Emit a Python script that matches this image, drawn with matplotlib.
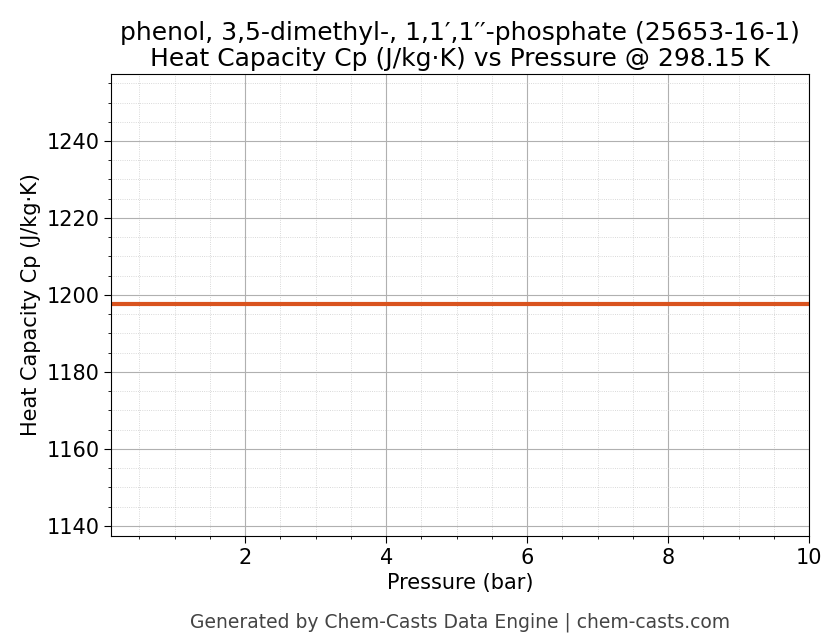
import matplotlib
matplotlib.use("Agg")
import matplotlib.pyplot as plt
from matplotlib.ticker import AutoMinorLocator

pressure = [0.1, 1, 2, 3, 4, 5, 6, 7, 8, 9, 10]
cp = [1197.7] * len(pressure)

fig = plt.figure(figsize=(8.36, 6.44), dpi=100)
ax = fig.add_axes([0.133, 0.168, 0.835, 0.717])
ax.plot(pressure, cp, color="#d9531e", linewidth=3)
ax.set_xlim(0.1, 10)
ax.set_ylim(1137.4, 1257.4)
ax.xaxis.set_minor_locator(AutoMinorLocator(4))
ax.yaxis.set_minor_locator(AutoMinorLocator(4))
ax.grid(which="major", color="#b0b0b0", linewidth=0.8)
ax.grid(which="minor", color="#cccccc", linewidth=0.6, linestyle=":")
ax.tick_params(labelsize=15)
ax.tick_params(which="major", length=5)
ax.set_xlabel("Pressure (bar)", fontsize=15)
ax.set_ylabel("Heat Capacity Cp (J/kg·K)", fontsize=15)
ax.set_title("phenol, 3,5-dimethyl-, 1,1′,1′′-phosphate (25653-16-1)\n"
             "Heat Capacity Cp (J/kg·K) vs Pressure @ 298.15 K", fontsize=18,
             linespacing=1.1)
fig.text(0.55, 0.025, "Generated by Chem-Casts Data Engine | chem-casts.com",
         ha="center", fontsize=13.5, color="#444444")
fig.savefig("out.png", dpi=100)
